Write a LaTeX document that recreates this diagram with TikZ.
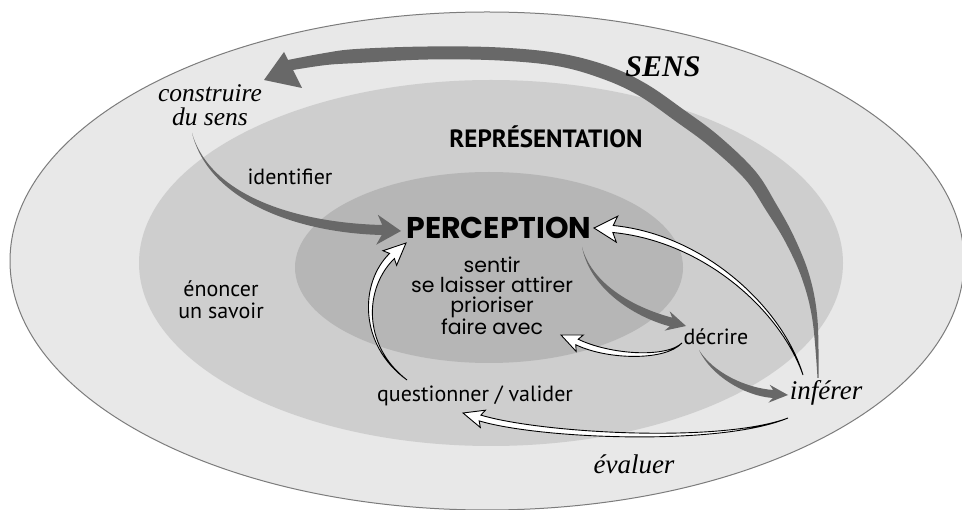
\documentclass[tikz,border=0pt]{standalone}
\usepackage{fontspec}
\setmainfont{Liberation Serif}
\newfontfamily\geofont{Poppins}
\newfontfamily\humfont{PT Sans}
\usetikzlibrary{calc}
\definecolor{outerc}{HTML}{E8E8E8}
\definecolor{midc}{HTML}{CECECE}
\definecolor{innc}{HTML}{B6B6B6}
\definecolor{arrc}{HTML}{686868}
\definecolor{rimc}{HTML}{7C7C7C}
% #1 style, #2 tail, #3 c1, #4 c2, #5 base, #6 tip, #7 shaft half width, #8 head half width, #9 notch
\newcommand\brusharrow[9]{%
  \coordinate (br-k) at ($(#5)!-#9pt!(#6)$);
  \path[#1] (#2)
    .. controls ($(#3)!{0.5*#7pt}!90:(#4)$) and ($(#4)!#7pt!90:(#5)$) .. ($(#5)!#7pt!90:(#6)$)
    -- ($(br-k)!#8pt!90:(#6)$) -- (#6) -- ($(br-k)!#8pt!-90:(#6)$)
    -- ($(#5)!#7pt!-90:(#6)$)
    .. controls ($(#4)!#7pt!-90:(#5)$) and ($(#3)!{0.5*#7pt}!-90:(#4)$) .. (#2) -- cycle;}
\begin{document}
\begin{tikzpicture}[x=1pt,y=-1pt,
  lbl/.style={inner sep=0pt, outer sep=0pt},
  itl/.style={lbl, font=\fontsize{27}{24}\selectfont\itshape},
  hum/.style={lbl, font=\humfont\fontsize{22}{22}\selectfont},
  geo/.style={lbl, font=\geofont\fontsize{20.5}{20}\selectfont},
  grayarrow/.style={fill=arrc},
  hollowarrow/.style={draw=black, fill=white, line width=0.9pt, line join=miter}]
\useasboundingbox (0,0) rectangle (962,510);
\clip (0,0) rectangle (962,510);
\fill[white] (0,0) rectangle (962,510);
% zones
\filldraw[fill=outerc, draw=rimc, line width=1pt] (487,261) ellipse [x radius=477, y radius=249];
\fill[midc] (491,263) ellipse [x radius=352, y radius=183];
\fill[innc] (489,267.5) ellipse [x radius=194, y radius=95.5];
% big SENS arrow
\coordinate (sensTail) at (818,378);
\coordinate (sensTip) at (264,80);
\fill[arrc] (sensTail) -- plot[smooth,tension=0.6] coordinates {(817.5,378) (812.5,320.3) (802.2,279.2) (785.5,242.2) (765.9,210.1) (745.1,179.3) (709.5,146.3) (674.9,120.7) (639.5,96) (604.6,79.6) (558.9,66.4) (499.7,60.5) (428.1,59.5) (357.6,63) (326.2,65) (293,70)}
  -- (302,88) -- (sensTip) -- (284,52)
  -- plot[smooth,tension=0.6] coordinates {(288,60) (323.8,53.2) (356.4,49) (427.9,46.5) (500.3,47.5) (561.1,53.6) (609.4,66.4) (646.5,84) (683.1,109.3) (718.5,135.7) (754.9,170.7) (776.1,203.9) (794.5,237.8) (809.8,276.8) (817.5,319.7) (818.5,378)} -- cycle;
% identifier arrow
\coordinate (idT) at (192,133); \coordinate (idA) at (210,200); \coordinate (idB) at (300,228);
\coordinate (idE) at (382,230); \coordinate (idTip) at (401,231);
\brusharrow{grayarrow}{idT}{idA}{idB}{idE}{idTip}{5}{15}{5}
% perception -> decrire
\coordinate (pdT) at (582,247); \coordinate (pdA) at (592,290); \coordinate (pdB) at (640,314);
\coordinate (pdE) at (671,322); \coordinate (pdTip) at (686,326);
\brusharrow{grayarrow}{pdT}{pdA}{pdB}{pdE}{pdTip}{4.5}{10}{4}
% decrire -> inferer
\coordinate (diT) at (699,350); \coordinate (diA) at (712,374); \coordinate (diB) at (745,392);
\coordinate (diE) at (773,394); \coordinate (diTip) at (788,395);
\brusharrow{grayarrow}{diT}{diA}{diB}{diE}{diTip}{4}{9}{4}
% hollow: inferer -> perception
\coordinate (ipT) at (803,375); \coordinate (ipA) at (782,310); \coordinate (ipB) at (705,238);
\coordinate (ipE) at (613,229); \coordinate (ipTip) at (594,228);
\brusharrow{hollowarrow}{ipT}{ipA}{ipB}{ipE}{ipTip}{3.5}{13}{4}
% hollow: decrire -> faire avec
\coordinate (dfT) at (682,343); \coordinate (dfA) at (665,360); \coordinate (dfB) at (608,357);
\coordinate (dfE) at (577,342); \coordinate (dfTip) at (561,335);
\brusharrow{hollowarrow}{dfT}{dfA}{dfB}{dfE}{dfTip}{3}{9}{3}
% hollow: questionner -> perception
\coordinate (qpT) at (407,380); \coordinate (qpA) at (360,345); \coordinate (qpB) at (362,285);
\coordinate (qpE) at (392,256); \coordinate (qpTip) at (406,243);
\brusharrow{hollowarrow}{qpT}{qpA}{qpB}{qpE}{qpTip}{3.5}{10}{3}
% hollow: inferer -> questionner
\coordinate (iqT) at (788,418); \coordinate (iqA) at (720,445); \coordinate (iqB) at (540,436);
\coordinate (iqE) at (480,418); \coordinate (iqTip) at (463,413);
\brusharrow{hollowarrow}{iqT}{iqA}{iqB}{iqE}{iqTip}{3}{9}{3}
% labels
\node[lbl, anchor=base, font=\fontsize{30}{30}\selectfont\bfseries\itshape] (sens) at (663,77) {SENS};
\node[itl, font=\fontsize{25.5}{24}\selectfont\itshape, align=center] (construire) at (210,105) {construire\\du sens};
\node[lbl, anchor=base, font=\humfont\bfseries\fontsize{25}{25}\selectfont] (repr) at (546,148) {REPRÉSENTATION};
\node[hum, anchor=base] (ident) at (290,185) {identifier};
\node[lbl, anchor=base, font=\geofont\bfseries\fontsize{30}{30}\selectfont] (perc) at (499,239) {PERCEPTION};
\node[geo, align=center] (sentir) at (492,296) {sentir\\se laisser attirer\\prioriser\\faire avec};
\node[hum, anchor=base] (decrire) at (716,345) {décrire};
\node[hum, align=center] (enoncer) at (221,300) {énoncer\\un savoir};
\node[hum, anchor=base] (quest) at (475,402) {questionner / valider};
\node[itl, anchor=base] (inferer) at (826,400) {inférer};
\node[itl, anchor=base] (evaluer) at (634,474) {évaluer};
\end{tikzpicture}
\end{document}
